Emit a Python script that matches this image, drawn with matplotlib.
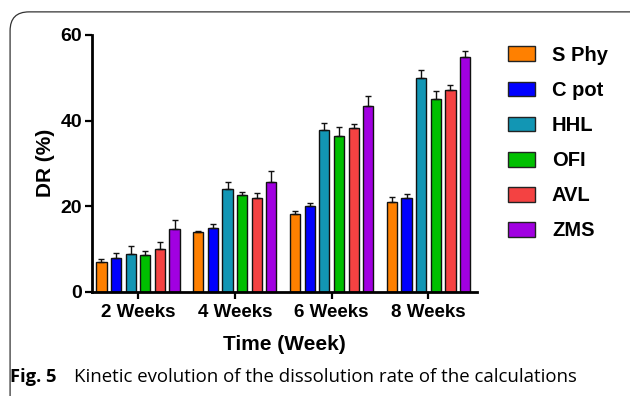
import numpy as np
import matplotlib.pyplot as plt
from matplotlib.patches import FancyBboxPatch, Patch

groups = ['2 Weeks', '4 Weeks', '6 Weeks', '8 Weeks']
series = ['S Phy', 'C pot', 'HHL', 'OFI', 'AVL', 'ZMS']
colors = ['#ff8000', '#0000ff', '#1296b4', '#00bf00', '#f44242', '#a100e1']

# mean DR (%) per series, one value per time point
s_phy = [7.0, 14.0, 18.1, 21.0]
c_pot = [8.0, 15.0, 20.1, 22.0]
hhl = [8.8, 24.0, 37.8, 49.9]
ofi = [8.7, 22.5, 36.5, 45.0]
avl = [10.0, 21.8, 38.2, 47.2]
zms = [14.6, 25.7, 43.3, 54.9]

# upper error (SD)
s_phy_err = [0.6, 0.3, 0.7, 1.1]
c_pot_err = [1.0, 0.8, 0.7, 0.8]
hhl_err = [1.9, 1.6, 1.6, 1.8]
ofi_err = [0.9, 0.9, 1.9, 1.8]
avl_err = [1.7, 1.3, 1.0, 1.1]
zms_err = [2.2, 2.4, 2.5, 1.4]

values = [s_phy, c_pot, hhl, ofi, avl, zms]
errors = [s_phy_err, c_pot_err, hhl_err, ofi_err, avl_err, zms_err]

plt.rcParams['font.family'] = ['Liberation Sans', 'DejaVu Sans']

fig = plt.figure(figsize=(6.3, 3.96), dpi=100)
ax = fig.add_axes([0.146, 0.263, 0.611, 0.649])

x = np.arange(len(groups))
pitch = 0.151
width = 0.105
for i, (vals, errs) in enumerate(zip(values, errors)):
    pos = x + (i - 2.5) * pitch
    ax.bar(pos, vals, width=width, color=colors[i], edgecolor='#111111',
           linewidth=1.0, label=series[i], zorder=2)
    ax.errorbar(pos, vals, yerr=[np.zeros(len(errs)), errs], fmt='none',
                ecolor='#111111', elinewidth=1.0, capsize=2.5, capthick=1.0, zorder=3)

ax.set_xlim(-0.475, 3.5)
ax.set_ylim(0, 60)
ax.set_yticks([0, 20, 40, 60])
ax.set_xticks(x)
ax.set_xticklabels(groups, fontsize=13.5, fontweight='bold')
for lab in ax.get_yticklabels():
    lab.set_fontsize(14)
    lab.set_fontweight('bold')
ax.tick_params(axis='both', width=1.6, length=5, direction='out', pad=2)
ax.tick_params(axis='x', pad=4)

for s in ['top', 'right']:
    ax.spines[s].set_visible(False)
for s in ['left', 'bottom']:
    ax.spines[s].set_linewidth(2.0)

ax.set_ylabel('DR (%)', fontsize=15, fontweight='bold', labelpad=4)
ax.set_xlabel('Time (Week)', fontsize=15, fontweight='bold', labelpad=10)

handles = [Patch(facecolor=c, edgecolor='#222222', linewidth=1.0) for c in colors]
fig.legend(handles, series, loc='upper left', bbox_to_anchor=(0.777, 0.93),
           frameon=False, prop={'size': 14.5, 'weight': 'bold'},
           handlelength=1.35, handleheight=0.75, labelspacing=0.8, handletextpad=0.85)

# panel frame with rounded top-left corner
frame = FancyBboxPatch((0.016, -0.2), 1.2, 1.17, boxstyle='round,pad=0,rounding_size=0.03',
                       transform=fig.transFigure, fill=False, edgecolor='#333333',
                       linewidth=0.9, mutation_aspect=630 / 396)
fig.patches.append(frame)

fig.text(0.016, 0.035, 'Fig. 5', fontsize=13.2, fontweight='bold', family='Open Sans')
fig.text(0.118, 0.035, 'Kinetic evolution of the dissolution rate of the calculations',
         fontsize=13.4, family='Open Sans')

fig.savefig('out.png', dpi=100)
